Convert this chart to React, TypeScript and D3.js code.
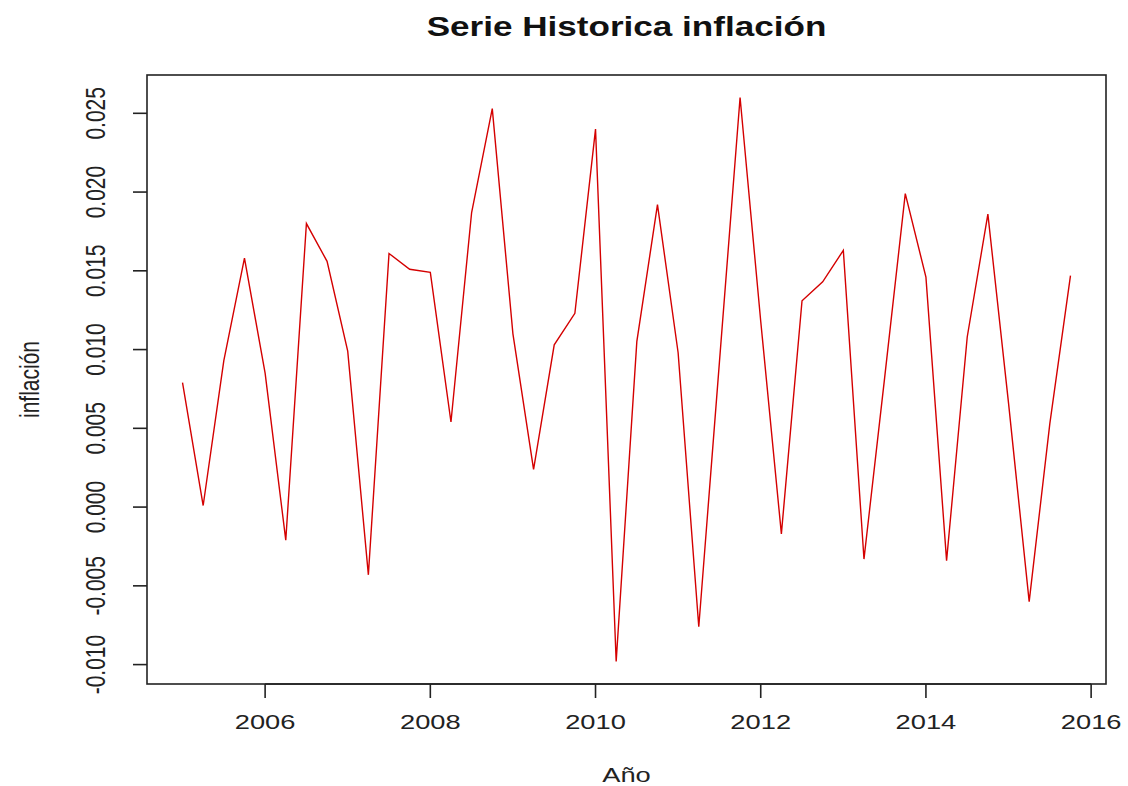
import * as d3 from "d3";

// quarterly series, starts 2005 Q1 (like R's ts(start = 2005, frequency = 4))
const startYear = 2005;
const frequency = 4;
const inflacion = [
  0.0079, 0.0001, 0.0093, 0.0158,
  0.0085, -0.0021, 0.018, 0.0156,
  0.0099, -0.0043, 0.0161, 0.0151,
  0.0149, 0.0054, 0.0187, 0.0253,
  0.011, 0.0024, 0.0103, 0.0123,
  0.024, -0.0098, 0.0105, 0.0192,
  0.0098, -0.0076, 0.0092, 0.026,
  0.0118, -0.0017, 0.0131, 0.0143,
  0.0163, -0.0033, 0.0082, 0.0199,
  0.0146, -0.0034, 0.0108, 0.0186,
  0.0066, -0.006, 0.0053, 0.0147,
];
const xTicks = [2006, 2008, 2010, 2012, 2014, 2016];
const yTicks = [-0.01, -0.005, 0, 0.005, 0.01, 0.015, 0.02, 0.025];

const title = "Serie Historica inflación";
const xLabel = "Año";
const yLabel = "inflación";

const width = 1128;
const height = 786;
const box = { left: 147, top: 75, right: 1106, bottom: 684 };
const font = "'Liberation Sans', Arial, sans-serif";
const ink = "#222";
const sx = 1.3; // the original picture is stretched sideways

// R pads the data range by 4% on each side
const pad = ([a, b]: [number, number]): [number, number] => {
  const d = (b - a) * 0.04;
  return [a - d, b + d];
};

export default function App() {
  const points = inflacion.map((v, i) => ({ t: startYear + i / frequency, v }));

  const x = d3
    .scaleLinear()
    .domain(pad(d3.extent(points, (d) => d.t) as [number, number]))
    .range([box.left, box.right]);
  const y = d3
    .scaleLinear()
    .domain(pad(d3.extent(points, (d) => d.v) as [number, number]))
    .range([box.bottom, box.top]);

  const path = d3
    .line<{ t: number; v: number }>()
    .x((d) => x(d.t))
    .y((d) => y(d.v))(points);

  const tickLen = 14;

  return (
    <svg
      width={width}
      height={height}
      style={{ position: "absolute", left: 0, top: 0, background: "#fff" }}
      fontFamily={font}
    >
      <text
        transform={`translate(${(box.left + box.right) / 2},36) scale(${sx},1)`}
        textAnchor="middle"
        fontSize={27}
        fontWeight="bold"
        fill="#111"
      >
        {title}
      </text>

      <path d={path || ""} fill="none" stroke="#d40000" strokeWidth={1.4} strokeLinejoin="miter" />

      <rect
        x={box.left}
        y={box.top}
        width={box.right - box.left}
        height={box.bottom - box.top}
        fill="none"
        stroke={ink}
        strokeWidth={1.6}
      />

      {/* x axis */}
      <line x1={x(xTicks[0])} x2={x(xTicks[xTicks.length - 1])} y1={box.bottom} y2={box.bottom} stroke={ink} strokeWidth={1.6} />
      {xTicks.map((t) => (
        <g key={t}>
          <line x1={x(t)} x2={x(t)} y1={box.bottom} y2={box.bottom + tickLen} stroke={ink} strokeWidth={1.6} />
          <text
            transform={`translate(${x(t)},729) scale(${sx},1)`}
            textAnchor="middle"
            fontSize={21}
            fill={ink}
          >
            {t}
          </text>
        </g>
      ))}

      {/* y axis */}
      {yTicks.map((t) => (
        <g key={t}>
          <line x1={box.left - tickLen} x2={box.left} y1={y(t)} y2={y(t)} stroke={ink} strokeWidth={1.6} />
          <text
            transform={`translate(105,${y(t)}) rotate(-90) scale(1,${sx})`}
            textAnchor="middle"
            fontSize={21}
            fill={ink}
          >
            {t.toFixed(3)}
          </text>
        </g>
      ))}

      <text
        transform={`translate(${(box.left + box.right) / 2},782) scale(${sx},1)`}
        textAnchor="middle"
        fontSize={21}
        fill={ink}
      >
        {xLabel}
      </text>
      <text
        transform={`translate(39,${(box.top + box.bottom) / 2}) rotate(-90) scale(1,${sx})`}
        textAnchor="middle"
        fontSize={21}
        fill={ink}
      >
        {yLabel}
      </text>
    </svg>
  );
}
